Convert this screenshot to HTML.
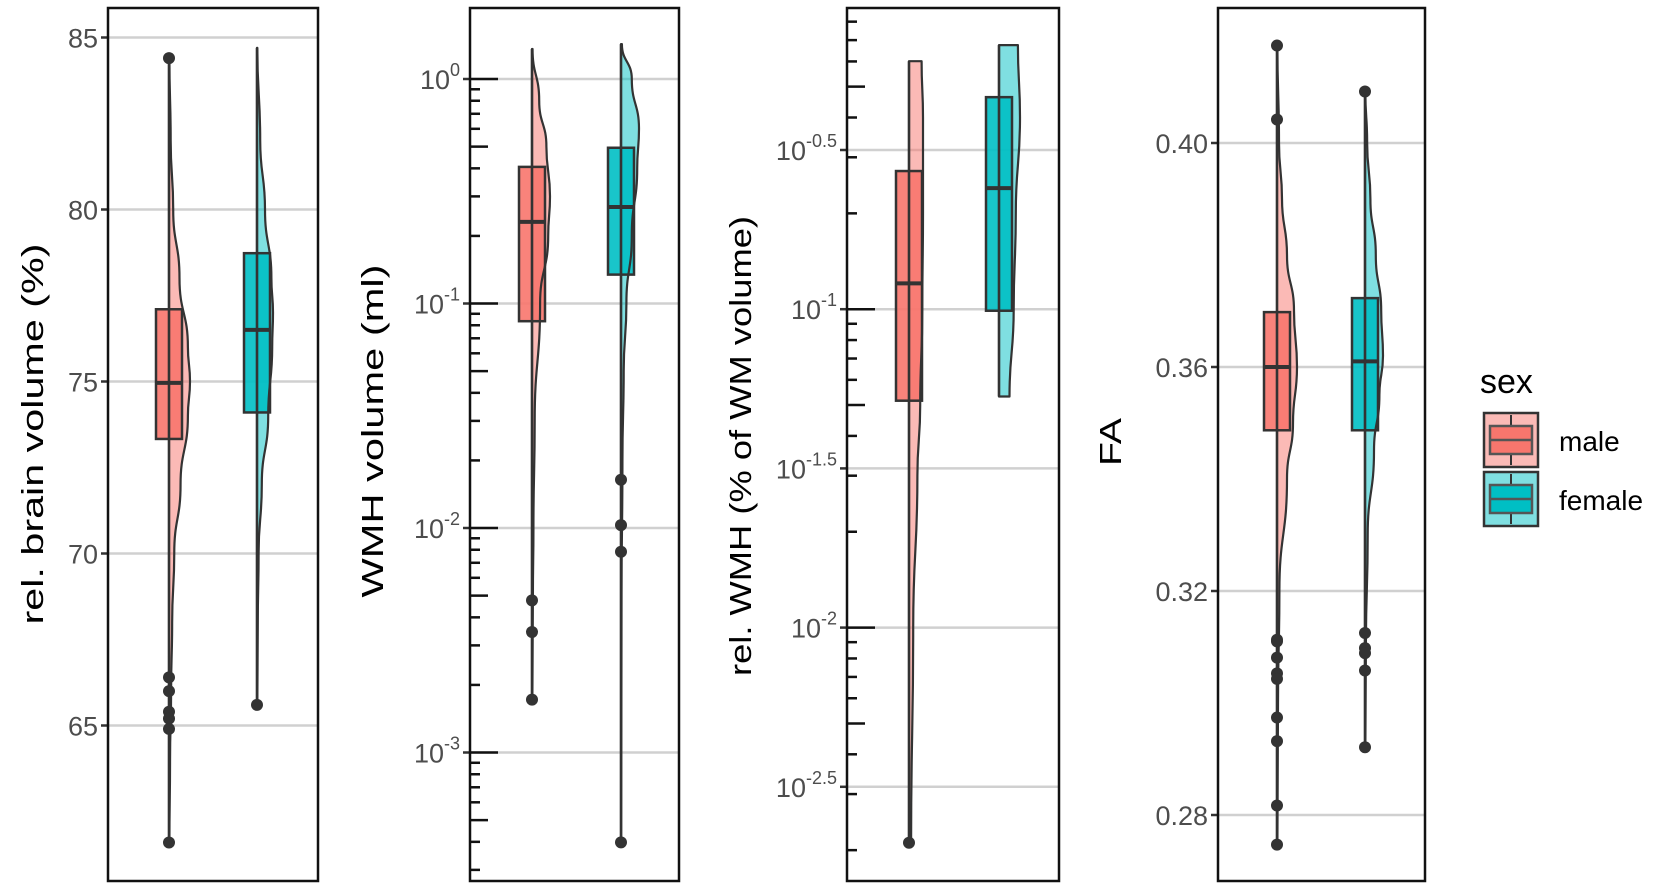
<!DOCTYPE html>
<html><head><meta charset="utf-8">
<style>
body{margin:0;background:#fff;}
svg{display:block;font-family:"Liberation Sans",Arial,sans-serif;}
</style></head>
<body>
<svg id="chart" width="1655" height="888" viewBox="0 0 1655 888"></svg>
<script>
// ---------- DATA ----------
const groups = ["male","female"];
const groupColors = ["#F8766D","#00BFC4"];
// Panel 1: rel. brain volume (%)
const p1Ticks = [65,70,75,80,85];
const p1Box = [[73.33,74.96,77.1],[74.1,76.5,78.73]]; // q1, median, q3
const p1Range = [[61.6,84.4],[65.6,84.7]];
const p1Outliers = [[84.4,66.4,66.0,65.4,65.2,64.9,61.6],[65.6]];
const p1ViolinVals = [[61.6,64,66,68,70,72,74,75,76,78,80,82,84.4],[65.6,68,70,72,74,76,77,78,80,82,84.7]];
const p1ViolinDens = [[0.02,0.05,0.1,0.15,0.25,0.55,0.9,1,0.9,0.5,0.2,0.08,0.02],[0.02,0.05,0.1,0.3,0.7,0.95,1,0.9,0.5,0.2,0.02]];
// Panel 2: WMH volume (ml)
const p2Ticks = [0,-1,-2,-3];
const p2Box = [[0.0834,0.231,0.406],[0.1345,0.269,0.494]];
const p2Range = [[0.00172,1.36],[0.000398,1.43]];
const p2Outliers = [[0.00476,0.00344,0.00172],[0.0164,0.0103,0.00784,0.000398]];
const p2ViolinVals = [[0.00172,0.005,0.01,0.03,0.1,0.2,0.3,0.5,0.8,1.36],[0.000398,0.005,0.02,0.05,0.1,0.2,0.4,0.6,1.0,1.43]];
const p2ViolinDens = [[0.02,0.05,0.08,0.15,0.45,0.9,1,0.8,0.4,0.03],[0.01,0.03,0.08,0.15,0.3,0.6,0.9,1,0.6,0.05]];
// Panel 3: rel. WMH (% of WM volume)
const p3Ticks = [-0.5,-1,-1.5,-2,-2.5];
const p3Box = [[0.0516,0.1205,0.2716],[0.0989,0.240,0.4634]];
const p3Range = [[0.00211,0.601],[0.0532,0.675]];
const p3Outliers = [[0.00211],[]];
const p3ViolinVals = [[0.00211,0.01,0.03,0.05,0.1,0.2,0.4,0.601],[0.0532,0.1,0.2,0.4,0.675]];
const p3ViolinDens = [[0.15,0.3,0.6,0.8,0.95,1,1,0.9],[0.5,0.7,0.8,1,0.9]];
// Panel 4: FA
const p4Ticks = [0.28,0.32,0.36,0.40];
const p4Box = [[0.3487,0.360,0.3698],[0.3487,0.361,0.3723]];
const p4Range = [[0.2747,0.4174],[0.2921,0.4092]];
const p4Outliers = [[0.4174,0.4042,0.3113,0.311,0.3081,0.3053,0.3043,0.2974,0.2932,0.2817,0.2747],[0.4092,0.3125,0.3098,0.3089,0.3058,0.2921]];
const p4ViolinVals = [[0.2747,0.30,0.32,0.34,0.35,0.36,0.37,0.38,0.39,0.40,0.4174],[0.2921,0.31,0.33,0.345,0.355,0.362,0.37,0.38,0.39,0.40,0.4092]];
const p4ViolinDens = [[0.02,0.05,0.12,0.5,0.8,1,0.85,0.5,0.25,0.1,0.02],[0.02,0.05,0.15,0.5,0.8,1,0.9,0.6,0.3,0.12,0.02]];

// ---------- LAYOUT ----------
const NS="http://www.w3.org/2000/svg";
const svg=document.getElementById('chart');
function mk(tag,attrs,parent){const e=document.createElementNS(NS,tag);for(const k in attrs)e.setAttribute(k,attrs[k]);(parent||svg).appendChild(e);return e;}
const TOP=8,BOT=881;
const panels=[
 {name:"brain-volume",x0:108,x1:318,cx:[169,257],y:v=>37.5+(85-v)*34.4,box:p1Box,range:p1Range,out:p1Outliers,vv:p1ViolinVals,vd:p1ViolinDens,wmax:[21,16],title:"rel. brain volume (%)",tx:32,ty:434,tl:381},
 {name:"wmh-volume",x0:470,x1:679,cx:[532,621],y:v=>79+(-Math.log10(v))*224.5,box:p2Box,range:p2Range,out:p2Outliers,vv:p2ViolinVals,vd:p2ViolinDens,wmax:[18,18],title:"WMH volume (ml)",tx:372,ty:431,tl:333,log:true},
 {name:"rel-wmh",x0:847,x1:1059,cx:[909,999],y:v=>150+(-0.5-Math.log10(v))*318.4,box:p3Box,range:p3Range,out:p3Outliers,vv:p3ViolinVals,vd:p3ViolinDens,wmax:[14,21],title:"rel. WMH (% of WM volume)",tx:740,ty:446,tl:460,log:true},
 {name:"fa",x0:1218,x1:1425,cx:[1277,1365],y:v=>143+(0.40-v)*5600,box:p4Box,range:p4Range,out:p4Outliers,vv:p4ViolinVals,vd:p4ViolinDens,wmax:[20,18],title:"FA",tx:1110,ty:442,tl:48}
];

function tickLabel(g,x,y,main,sup,pname){
  const t=mk('text',{x:x,y:y+10,'text-anchor':'end','font-size':'27','fill':'#4d4d4d'},g);
  
  
  if(sup===null){t.textContent=main;}
  else{
    const a=mk('tspan',{},t);a.textContent=main;
    const b=mk('tspan',{'font-size':'18','dy':'-13'},t);b.textContent=sup;
  }
}

panels.forEach((p,pi)=>{
  const g=mk('g',{});
  
  
  let ticks=[];
  if(pi===0) ticks=p1Ticks.map(v=>({y:p.y(v),m:String(v),s:null}));
  if(pi===1) ticks=p2Ticks.map(k=>({y:p.y(Math.pow(10,k)),m:"10",s:String(k)}));
  if(pi===2) ticks=p3Ticks.map(k=>({y:p.y(Math.pow(10,k)),m:"10",s:String(k)}));
  if(pi===3) ticks=p4Ticks.map(v=>({y:p.y(v),m:v.toFixed(2),s:null}));
  ticks.forEach(t=>{
    const gl=mk('line',{x1:p.x0,x2:p.x1,y1:t.y,y2:t.y,stroke:'#d0d0d0','stroke-width':2.5},g);
    
    
    mk('line',{x1:p.x0-7,x2:p.x0,y1:t.y,y2:t.y,stroke:'#333','stroke-width':2.5},g);
    tickLabel(g,p.x0-10,t.y,t.m,t.s,p.name);
  });
  if(p.log){
    for(let k=-5;k<=1;k++){
      for(let m=1;m<=9;m++){
        const v=m*Math.pow(10,k); const y=p.y(v);
        if(y<TOP+4||y>BOT-4) continue;
        const len=m===1?28:(m===5?18:10);
        const lt=mk('line',{x1:p.x0,x2:p.x0+len,y1:y,y2:y,stroke:'#111','stroke-width':2.5},g);
        
        
      }
    }
  }
  groups.forEach((gn,gi)=>{
    const cx=p.cx[gi], col=groupColors[gi];
    const vals=p.vv[gi], dens=p.vd[gi];
    let pts=[];
    for(let i=0;i<vals.length;i++) pts.push([cx+dens[i]*p.wmax[gi],p.y(vals[i])]);
    let d=`M${cx},${p.y(vals[0])} L${pts[0][0]},${pts[0][1]}`;
    for(let i=1;i<pts.length;i++){
      const a=pts[i-1],b=pts[i];const my=(a[1]+b[1])/2;
      d+=` C${a[0]},${my} ${b[0]},${my} ${b[0]},${b[1]}`;
    }
    d+=` L${cx},${p.y(vals[vals.length-1])} Z`;
    const vf=mk('path',{d:d,fill:col,'fill-opacity':0.5,stroke:'none'},g);
    
    
    const b=p.box[gi];
    const yq1=p.y(b[0]),ymed=p.y(b[1]),yq3=p.y(b[2]);
    const bx=mk('rect',{x:cx-13,y:yq3,width:26,height:yq1-yq3,fill:col,'fill-opacity':0.9,stroke:'#333','stroke-width':2.5},g);
    
    
    const md=mk('line',{x1:cx-13,x2:cx+13,y1:ymed,y2:ymed,stroke:'#333','stroke-width':4},g);
    
    
    const vo=mk('path',{d:d,fill:'none',stroke:'#333','stroke-width':2.2,'stroke-linejoin':'round'},g);
    
    
    const wl=mk('line',{x1:cx,x2:cx,y1:p.y(p.range[gi][0]),y2:p.y(p.range[gi][1]),stroke:'#333','stroke-width':2.5},g);
    
    
    p.out[gi].forEach(v=>{
      const c=mk('circle',{cx:cx,cy:p.y(v),r:6,fill:'#333'},g);
      
      
    });
  });
  const br=mk('rect',{x:p.x0,y:TOP,width:p.x1-p.x0,height:BOT-TOP,fill:'none',stroke:'#111','stroke-width':2.5},g);
  
  
  const tt=mk('text',{x:p.tx,y:p.ty,'text-anchor':'middle','font-size':'31','fill':'#000',textLength:p.tl,lengthAdjust:'spacingAndGlyphs',transform:`rotate(-90 ${p.tx} ${p.ty})`,'dy':'11'},g);
  tt.textContent=p.title;
  
  
});

const lg=mk('g',{});


const lt=mk('text',{x:1480,y:393,'font-size':'34','fill':'#000'},lg);
lt.textContent="sex";


groups.forEach((gn,gi)=>{
  const y0=413+gi*59, col=groupColors[gi];
  const e=mk('g',{},lg);
  
  
  mk('rect',{x:1484,y:y0,width:54,height:54,fill:col,'fill-opacity':0.5,stroke:'#333','stroke-width':2.5},e);
  mk('line',{x1:1511,x2:1511,y1:y0+2,y2:y0+52,stroke:'#333','stroke-width':2},e);
  mk('rect',{x:1490,y:y0+13,width:42,height:28,fill:col,stroke:'#555','stroke-width':2.5},e);
  mk('line',{x1:1490,x2:1532,y1:y0+27,y2:y0+27,stroke:'#555','stroke-width':2.5},e);
  const t=mk('text',{x:1559,y:y0+38,'font-size':'28','fill':'#000'},e);
  t.textContent=gn;
});
</script>
</body></html>
